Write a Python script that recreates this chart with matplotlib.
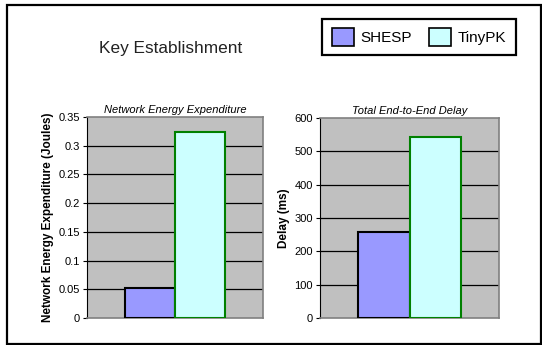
import matplotlib.pyplot as plt
from matplotlib.patches import Patch, Rectangle

plt.rcParams['font.family'] = ['Liberation Sans', 'DejaVu Sans']

schemes = ['SHESP', 'TinyPK']
energy = [0.053, 0.324]     # Joules
delay = [258, 544]          # ms
colors = ['#9999FF', '#CCFFFF']
edges = ['black', '#008000']

W, H = 542, 345
fig = plt.figure(figsize=(W / 100, H / 100), dpi=100)

# outer frame round the whole chart
fig.patches.append(Rectangle((7 / W, 1 - 344 / H), 534 / W, 339 / H,
                             transform=fig.transFigure, fill=False,
                             edgecolor='black', linewidth=1.6))

fig.text(171 / W, 1 - 48 / H, 'Key Establishment', fontsize=12.4,
         ha='center', va='center', color='#222222')


def panel(rect, vals, ylim, step, ticklabels, title, ylabel):
    ax = fig.add_axes(rect)
    ax.set_facecolor('#C0C0C0')
    w = 0.285
    xs = [-w / 2, w / 2]
    for x, v, c, e in zip(xs, vals, colors, edges):
        ax.bar(x, v, width=w, color=c, edgecolor=e, linewidth=1.5, zorder=3)
    ax.set_xlim(-0.5, 0.5)
    ax.set_ylim(0, ylim)
    ticks = [i * step for i in range(len(ticklabels))]
    ax.set_yticks(ticks)
    ax.set_yticklabels(ticklabels, fontsize=8)
    ax.set_xticks([])
    for t in ticks[1:-1]:
        ax.axhline(t, color='black', linewidth=0.9, zorder=1)
    for s in ['top', 'right', 'bottom']:
        ax.spines[s].set_color('#808080')
        ax.spines[s].set_linewidth(1.2)
    ax.spines['left'].set_color('black')
    ax.tick_params(axis='y', length=3, width=0.8, pad=2)
    ax.set_title(title, fontsize=8, style='italic', pad=3)
    ax.set_ylabel(ylabel, fontsize=8.5, fontweight='bold', labelpad=3)
    return ax


panel([87 / W, 1 - 318 / H, 176 / W, 201 / H], energy, 0.35, 0.05,
      ['0', '0.05', '0.1', '0.15', '0.2', '0.25', '0.3', '0.35'],
      'Network Energy Expenditure', 'Network Energy Expenditure (Joules)')
panel([320 / W, 1 - 318 / H, 179 / W, 200 / H], delay, 600, 100,
      ['0', '100', '200', '300', '400', '500', '600'],
      'Total End-to-End Delay', 'Delay (ms)')

handles = [Patch(facecolor=c, edgecolor='black', linewidth=1.2) for c in colors]
leg = fig.legend(handles, schemes, ncol=2, loc='center',
                 bbox_to_anchor=(419 / W, 1 - 37 / H), fontsize=11,
                 fancybox=False, framealpha=1, edgecolor='black',
                 handlelength=1.45, handleheight=1.5, columnspacing=1.1,
                 handletextpad=0.45, borderpad=0.6)
leg.get_frame().set_linewidth(1.6)

fig.savefig('out.png', dpi=100)
